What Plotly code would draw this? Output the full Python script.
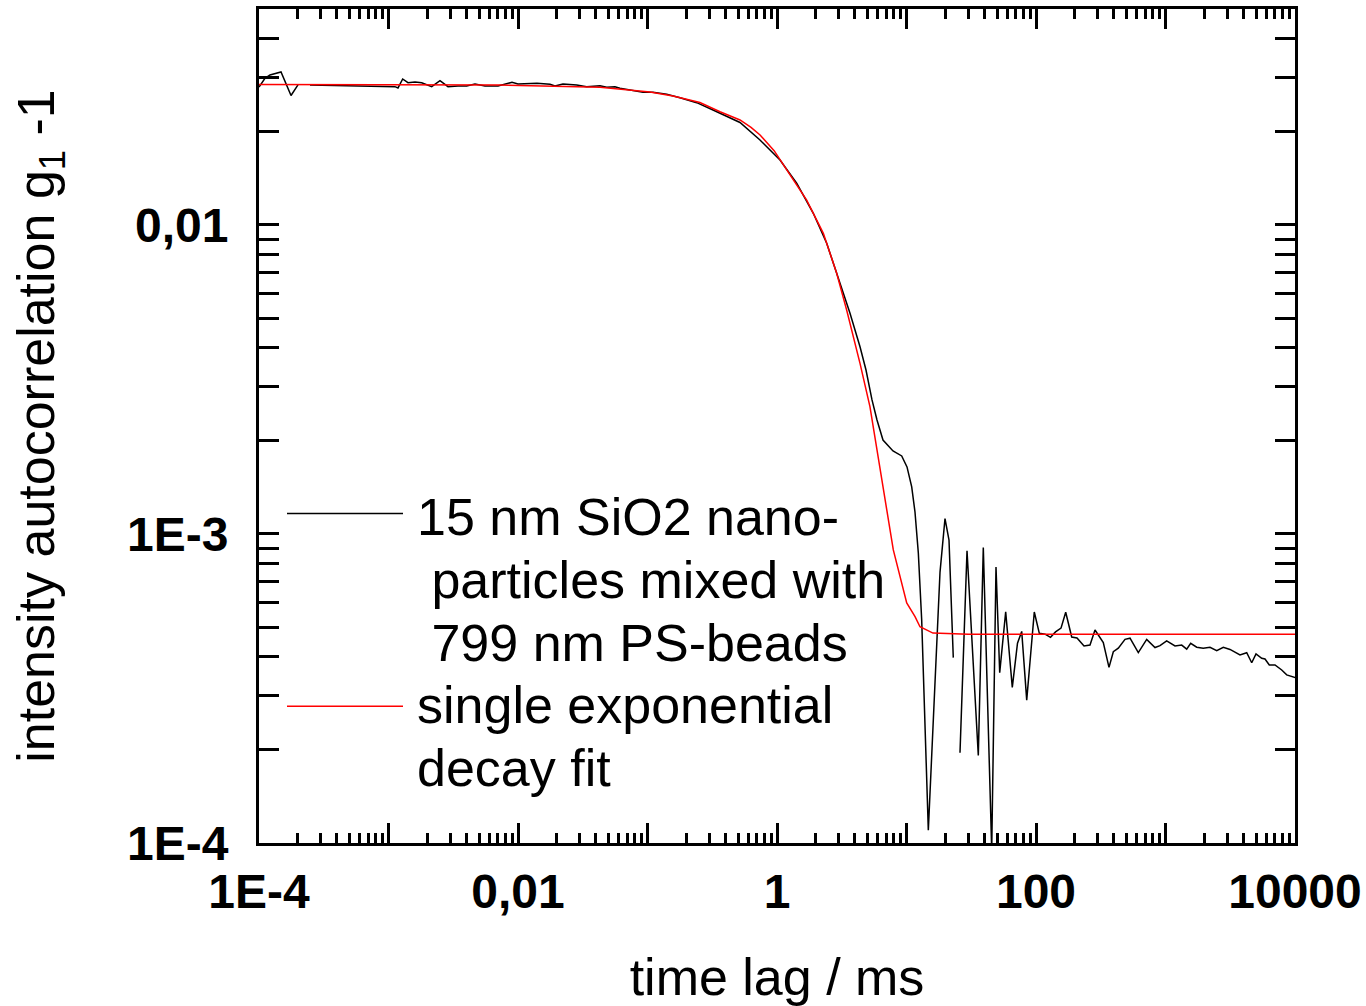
import plotly.graph_objects as go

# ---- data ----
# measured autocorrelation (None = gap where the value was not plotted)
t_meas = [1.0e-4, 1.112e-4, 1.216e-4, 1.479e-4, 1.767e-4, 2.0e-4,
          2.2e-4,
          2.476e-4, 4.22e-4, 7.2e-4,
          1.122e-3, 1.184e-3, 1.287e-3, 1.414e-3, 1.602e-3, 1.805e-3, 2.156e-3, 2.498e-3, 2.88e-3, 3.44e-3,
          4.017e-3, 4.656e-3, 5.562e-3, 7.01e-3, 8.37e-3, 8.99e-3, 0.01, 0.01173, 0.01402, 0.01767,
          0.0193, 0.02226, 0.0284, 0.0339, 0.04297, 0.04842, 0.0561, 0.0613, 0.07727, 0.0923,
          0.1103, 0.1407, 0.1782, 0.2399, 0.3205, 0.5178, 0.739, 1.055, 1.419, 1.907,
          2.42, 3.065, 3.662, 4.375, 4.867, 5.415, 5.918, 6.584, 7.866, 9.183,
          10.09, 10.97, 11.63, 12.34, 13.1, 14.74, 18.15, 19.83, 21.29, 22.98,
          24.4,
          25.89, 29.33, 35.85, 39.18, 45.5, 49.1, 52.45, 58.34, 65.6, 71.97,
          77.56, 84.77, 97.0, 106.1, 117.4, 129.4, 141.5, 156.0, 169.6, 188.7,
          207.3, 234.8, 261.2, 285.5, 330.9, 366.2, 395.4, 432.1, 486.8, 532.1,
          616.6, 715.9, 829.8, 907.0, 1021, 1184, 1334, 1458, 1565, 1742,
          1958, 2206, 2486, 2795, 3148, 3761, 4238, 4632, 4999, 5533,
          5866, 6332, 7008, 7897, 8630, 9703, 10500]
g_meas = [0.02797, 0.02984, 0.03058, 0.03127, 0.02625, 0.02839,
          None,
          0.02839, 0.02829, 0.02818,
          0.02803, 0.02776, 0.02968, 0.02887, 0.02902, 0.02887, 0.02803, 0.02931, 0.02803, 0.02818,
          0.02818, 0.02859, 0.02818, 0.02818, 0.0288, 0.02895, 0.02859, 0.0287, 0.02874, 0.02853,
          0.02818, 0.02859, 0.02839, 0.02803, 0.02824, 0.0279, 0.02803, 0.0277, 0.0272, 0.02688,
          0.02688, 0.02648, 0.02582, 0.02488, 0.02356, 0.02146, 0.01884, 0.01623, 0.01365, 0.01091,
          0.008726, 0.006477, 0.005178, 0.004037, 0.003394, 0.002715, 0.002338, 0.002014, 0.001856, 0.001789,
          0.001648, 0.00142, 0.001178, 0.000868, 0.000527, 0.00011, 0.000753, 0.001122, 0.000956, 0.000398,
          None,
          0.000196, 0.000883, 0.000192, 0.000904, 0.000095, 0.000782, 0.000356, 0.00056, 0.000319, 0.000443,
          0.000484, 0.00029, 0.000559, 0.000477, 0.000474, 0.000463, 0.000482, 0.000496, 0.000558, 0.000464,
          0.000461, 0.000434, 0.000437, 0.000489, 0.000445, 0.00037, 0.000416, 0.000427, 0.000456, 0.00046,
          0.000413, 0.000456, 0.000429, 0.000435, 0.000451, 0.000434, 0.000437, 0.000424, 0.000443, 0.00043,
          0.000427, 0.00043, 0.000419, 0.00043, 0.000423, 0.000406, 0.000413, 0.000383, 0.000409, 0.000396,
          0.000394, 0.000377, 0.000377, 0.000363, 0.00035, 0.000344, 0.000341]

# single exponential decay fit
t_fit = [1e-4, 0.00726, 0.043, 0.1045, 0.1574, 0.254, 0.363, 0.518, 0.63, 0.74, 0.95, 1.189,
         1.695, 2.28, 2.89, 3.45, 4.375, 5.22, 6.24, 7.91, 10.04, 11.64,
         12.71, 16.0, 30.0, 10000]
g_fit = [0.02849, 0.02838, 0.0279, 0.02694, 0.02615, 0.02491, 0.02326, 0.02187, 0.0207, 0.01956, 0.0174, 0.01507,
         0.01204, 0.0094, 0.00698, 0.00531, 0.003567, 0.002582, 0.001611, 0.000888, 0.000598, 0.00054,
         0.000501, 0.000478, 0.000474, 0.000474]

# tick labels
x_labeled = [1e-4, 1e-2, 1, 100, 10000]
x_labels = ["1E-4", "0,01", "1", "100", "10000"]
x_unlabeled = [1e-3, 1e-1, 10, 1000]
y_major = [1e-4, 1e-3, 1e-2]
y_labels = ["1E-4", "1E-3", "0,01"]

legend_meas_lines = ["15 nm SiO2 nano-", "\u00a0particles mixed with", "\u00a0799 nm PS-beads"]
legend_fit_lines = ["single exponential", "decay fit"]

x_minor = [m * 10 ** e for e in range(-4, 4) for m in range(2, 10)]
y_minor = [m * 10 ** e for e in range(-4, -1) for m in range(2, 10) if m * 10 ** e < 0.05]

FONT = "Liberation Sans, Arial, sans-serif"

fig = go.Figure()
fig.add_trace(go.Scatter(x=t_meas, y=g_meas, mode="lines",
                         line=dict(color="black", width=1.5), connectgaps=False,
                         name="measured", showlegend=False))
fig.add_trace(go.Scatter(x=t_fit, y=g_fit, mode="lines",
                         line=dict(color="#ff0000", width=1.5),
                         name="fit", showlegend=False))

tick_style = dict(ticks="inside", ticklen=20, tickwidth=3, tickcolor="black")
minor_style = dict(tickmode="array", ticks="inside", ticklen=10, tickwidth=3, tickcolor="black")

fig.update_layout(
    xaxis=dict(
        type="log", showgrid=False, zeroline=False, range=[-4, 4],
        showline=True, linecolor="black", linewidth=3, mirror="allticks",
        tickmode="array", tickvals=x_labeled, ticktext=x_labels, **tick_style,
        tickfont=dict(family=FONT, size=48, color="black", weight="bold"),
        minor=dict(tickvals=x_minor, **minor_style),
        title=dict(text="time lag / ms", font=dict(family=FONT, size=52, color="black"), standoff=43),
        ticklabelstandoff=4,
    ),
    xaxis2=dict(
        type="log", overlaying="x", anchor="y", side="bottom", range=[-4, 4],
        showgrid=False, zeroline=False, showline=False, mirror="allticks",
        tickmode="array", tickvals=x_unlabeled, showticklabels=False, **tick_style,
    ),
    yaxis=dict(
        type="log", showgrid=False, zeroline=False, range=[-4, -1.30103],
        showline=True, linecolor="black", linewidth=3, mirror="allticks",
        tickmode="array", tickvals=y_major, ticktext=y_labels, **tick_style,
        tickfont=dict(family=FONT, size=48, color="black", weight="bold"),
        minor=dict(tickvals=y_minor, **minor_style),
        title=dict(text="intensity autocorrelation g<sub>1</sub> -1",
                   font=dict(family=FONT, size=52, color="black"), standoff=56),
        ticklabelstandoff=18,
    ),
)

# invisible helper trace so the overlay axis is drawn
fig.add_trace(go.Scatter(x=[1e-4, 1e4], y=[None, None], xaxis="x2", yaxis="y",
                         mode="lines", showlegend=False, hoverinfo="skip"))

# hand-drawn legend
def px2paper_x(px):
    return (px - 259) / 1036.0

def px2paper_y(py):
    return (843 - py) / 835.0

fig.add_shape(type="line", xref="paper", yref="paper",
              x0=px2paper_x(287), x1=px2paper_x(403), y0=px2paper_y(513), y1=px2paper_y(513),
              line=dict(color="black", width=1.5))
fig.add_shape(type="line", xref="paper", yref="paper",
              x0=px2paper_x(287), x1=px2paper_x(403), y0=px2paper_y(706), y1=px2paper_y(706),
              line=dict(color="#ff0000", width=1.5))

for txt, yc in zip(legend_meas_lines + legend_fit_lines, [517, 580, 643, 705, 768]):
    fig.add_annotation(xref="paper", yref="paper", x=px2paper_x(415), y=px2paper_y(yc),
                       xanchor="left", yanchor="middle", align="left", showarrow=False,
                       text=txt, font=dict(family=FONT, size=52, color="black"))

fig.update_layout(
    width=1366, height=1006,
    margin=dict(l=259, r=71, t=9, b=163, autoexpand=False),
    paper_bgcolor="white", plot_bgcolor="white",
    showlegend=False,
)

fig.write_html("out.html")
